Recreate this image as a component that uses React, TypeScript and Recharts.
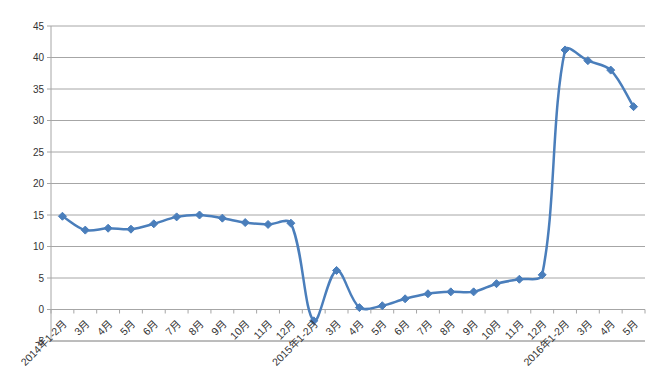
import React from "react";
import { LineChart, Line, XAxis, YAxis, CartesianGrid } from "recharts";

const months = [
  "2014年1-2月", "3月", "4月", "5月", "6月", "7月", "8月", "9月", "10月", "11月", "12月",
  "2015年1-2月", "3月", "4月", "5月", "6月", "7月", "8月", "9月", "10月", "11月", "12月",
  "2016年1-2月", "3月", "4月", "5月",
];
const values = [
  14.8, 12.6, 12.9, 12.75, 13.6, 14.7, 15.0, 14.5, 13.8, 13.5, 13.7,
  -1.8, 6.2, 0.3, 0.6, 1.7, 2.5, 2.8, 2.8, 4.1, 4.8, 5.5,
  41.2, 39.5, 38.0, 32.2,
];
const yTicks = [-5, 0, 5, 10, 15, 20, 25, 30, 35, 40, 45];

const data = months.map((m, i) => ({ month: m, value: values[i] }));

const W = 663;
const H = 373;
const margin = { top: 26, right: 18, left: 0, bottom: 2 };
const Y_AXIS_W = 51;
const X_AXIS_H = 30;
const plotW = W - margin.left - margin.right - Y_AXIS_W;
const plotH = H - margin.top - margin.bottom - X_AXIS_H;
const step = plotW / months.length;
// x axis crosses at 0, which sits 5/50 of the plot above the bottom
const zeroOffset = (plotH * 5) / 50;

const BLUE = "#4A7EBB";
const GRID = "#A6A6A6";
const FONT = "'Liberation Sans', 'Noto Sans CJK SC', sans-serif";

// Excel-like smoothing: tangent along (next - prev), handles weighted by chord length
const excelCurve: any = (context: any) => {
  let pts: number[][] = [];
  const dist = (a: number[], b: number[]) => Math.hypot(b[0] - a[0], b[1] - a[1]);
  return {
    areaStart() {},
    areaEnd() {},
    lineStart() {
      pts = [];
    },
    point(x: number, y: number) {
      pts.push([+x, +y]);
    },
    lineEnd() {
      const n = pts.length;
      if (!n) return;
      const hIn: number[][] = [];
      const hOut: number[][] = [];
      for (let i = 0; i < n; i++) {
        const prev = pts[i - 1] || pts[i];
        const next = pts[i + 1] || pts[i];
        const dPrev = dist(prev, pts[i]);
        const dNext = dist(pts[i], next);
        const tot = dPrev + dNext || 1;
        const tx = next[0] - prev[0];
        const ty = next[1] - prev[1];
        hIn.push([(tx * dPrev) / tot / 3, (ty * dPrev) / tot / 3]);
        hOut.push([(tx * dNext) / tot / 3, (ty * dNext) / tot / 3]);
      }
      context.moveTo(pts[0][0], pts[0][1]);
      for (let i = 0; i < n - 1; i++) {
        const p1 = pts[i];
        const p2 = pts[i + 1];
        context.bezierCurveTo(
          p1[0] + hOut[i][0],
          p1[1] + hOut[i][1],
          p2[0] - hIn[i + 1][0],
          p2[1] - hIn[i + 1][1],
          p2[0],
          p2[1]
        );
      }
    },
  };
};

const Diamond = (props: any) => {
  const { cx, cy } = props;
  if (cx == null || cy == null) return null;
  const r = 4;
  return (
    <polygon
      points={`${cx},${cy - r} ${cx + r},${cy} ${cx},${cy + r} ${cx - r},${cy}`}
      fill={BLUE}
      stroke={BLUE}
      strokeWidth={1}
    />
  );
};

const MonthTick = (props: any) => {
  const { x, y, payload } = props;
  const zy = y - zeroOffset;
  const left = x - step / 2;
  const isLast = payload.index === months.length - 1;
  const tx = x + 5;
  const ty = zy + 15;
  return (
    <g>
      <line x1={left} y1={zy} x2={left} y2={zy + 4} stroke={GRID} />
      {isLast && <line x1={x + step / 2} y1={zy} x2={x + step / 2} y2={zy + 4} stroke={GRID} />}
      <text
        x={tx}
        y={ty}
        textAnchor="end"
        transform={`rotate(-45 ${tx} ${ty})`}
        fontSize={10.5}
        fill="#333"
        fontFamily={FONT}
      >
        {payload.value}
      </text>
    </g>
  );
};

export default function App() {
  return (
    <div style={{ position: "absolute", left: 0, top: 0, width: W, height: H, background: "#fff" }}>
      <LineChart width={W} height={H} data={data} margin={margin}>
        <CartesianGrid horizontal vertical={false} stroke={GRID} />
        <XAxis
          dataKey="month"
          interval={0}
          height={X_AXIS_H}
          padding={{ left: step / 2, right: step / 2 }}
          tickLine={false}
          tickSize={0}
          tickMargin={0}
          axisLine={{ stroke: GRID }}
          tick={<MonthTick />}
        />
        <YAxis
          width={Y_AXIS_W}
          domain={[-5, 45]}
          ticks={yTicks}
          interval={0}
          tickSize={4}
          tickMargin={3}
          axisLine={{ stroke: GRID }}
          tickLine={{ stroke: GRID }}
          tick={{ fontSize: 10, fill: "#333", fontFamily: FONT }}
        />
        <Line
          dataKey="value"
          type={excelCurve}
          stroke={BLUE}
          strokeWidth={2.5}
          dot={<Diamond />}
          activeDot={false}
          isAnimationActive={false}
        />
      </LineChart>
    </div>
  );
}
